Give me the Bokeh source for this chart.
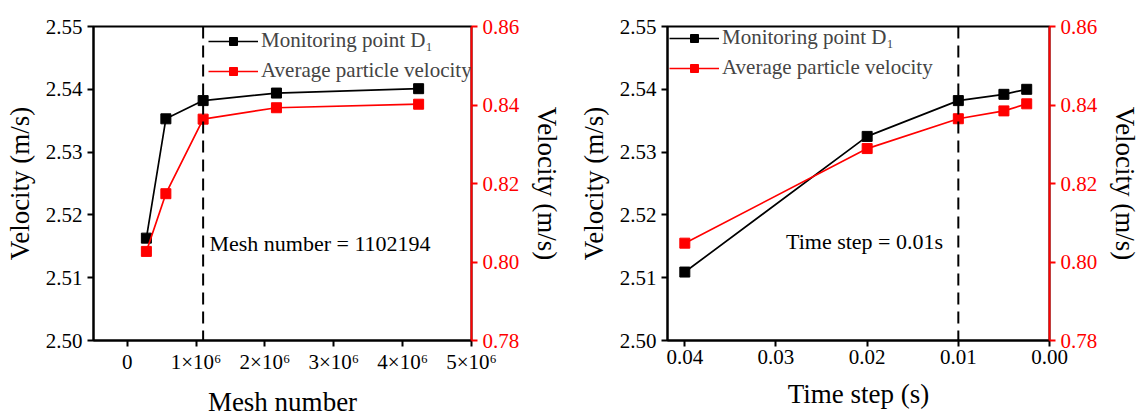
from bokeh.plotting import figure
from bokeh.models import (Range1d, LinearAxis, FixedTicker, CustomJSTickFormatter,
                          Span, Legend, LegendItem)
from bokeh.layouts import row
from bokeh.core.properties import value
from bokeh.embed import file_html
from bokeh.resources import INLINE

# ---------------- data ----------------
mesh_number = [278000, 561000, 1102194, 2167000, 4232000]
mesh_d1 = [2.5163, 2.5353, 2.5382, 2.5394, 2.5401]
mesh_avg = [0.8027, 0.8174, 0.8364, 0.8393, 0.8402]

time_step = [0.04, 0.02, 0.01, 0.005, 0.0025]
ts_d1 = [2.5109, 2.5325, 2.5382, 2.5392, 2.5400]
ts_avg = [0.8048, 0.8289, 0.8365, 0.8385, 0.8403]

left_ticks = [2.50, 2.51, 2.52, 2.53, 2.54, 2.55]
right_ticks = [0.78, 0.80, 0.82, 0.84, 0.86]
mesh_ticks = [0, 1000000, 2000000, 3000000, 4000000, 5000000]
ts_ticks = [0.04, 0.03, 0.02, 0.01, 0.0]

series_names = ["Monitoring point D\u2081", "Average particle velocity"]
mesh_note = "Mesh number = 1102194"
ts_note = "Time step = 0.01s"
mesh_chosen = 1102194
ts_chosen = 0.01

FONT = "Liberation Serif"


def style_axis(ax, color="black"):
    ax.axis_line_color = color
    ax.axis_line_width = 2
    ax.major_tick_line_color = color
    ax.major_tick_line_width = 2
    ax.major_tick_out = 6
    ax.major_tick_in = 0
    ax.minor_tick_line_color = None
    ax.major_label_text_color = color
    ax.major_label_text_font = FONT
    ax.major_label_text_font_style = "normal"
    ax.major_label_text_font_size = "21px"
    ax.major_label_standoff = 5
    ax.axis_label_text_font = FONT
    ax.axis_label_text_font_size = "27px"
    ax.axis_label_text_font_style = "normal"
    ax.axis_label_text_color = "black"


def make_panel(xs, d1, avg, x_range, xticks, xfmt, xlabel, xlabel_standoff,
               note, note_x, note_y, chosen, width, border_left, border_right,
               border_top, border_bottom, legend_loc):
    p = figure(width=width, height=419, output_backend="svg", toolbar_location=None,
               x_range=x_range, y_range=Range1d(2.50, 2.55),
               min_border_left=border_left, min_border_right=border_right,
               min_border_top=border_top, min_border_bottom=border_bottom)
    p.extra_y_ranges = {"r": Range1d(0.78, 0.86)}
    p.xgrid.visible = False
    p.ygrid.visible = False
    p.outline_line_color = "black"
    p.outline_line_width = 2
    p.background_fill_color = "white"
    p.border_fill_color = "white"

    xa = p.xaxis[0]
    style_axis(xa)
    xa.ticker = FixedTicker(ticks=xticks, minor_ticks=[])
    xa.formatter = xfmt
    xa.major_label_standoff = 3
    xa.axis_label = xlabel
    xa.axis_label_standoff = xlabel_standoff

    ya = p.yaxis[0]
    style_axis(ya)
    ya.ticker = FixedTicker(ticks=left_ticks, minor_ticks=[])
    ya.formatter = CustomJSTickFormatter(code="return tick.toFixed(2);")
    ya.axis_label = "Velocity (m/s)"
    ya.axis_label_standoff = 8

    ra = LinearAxis(y_range_name="r")
    style_axis(ra, "red")
    ra.ticker = FixedTicker(ticks=right_ticks, minor_ticks=[])
    ra.formatter = CustomJSTickFormatter(code="return tick.toFixed(2);")
    ra.axis_label = "Velocity (m/s)"
    ra.axis_label_standoff = 10
    p.add_layout(ra, "right")

    p.add_layout(Span(location=chosen, dimension="height", line_color="black",
                      line_width=2, line_dash="12 7"))

    lb = p.line(xs, d1, line_color="black", line_width=1.7)
    sb = p.scatter(xs, d1, marker="square", size=10, fill_color="black",
                   line_color="black")
    lr = p.line(xs, avg, line_color="red", line_width=1.7, y_range_name="r")
    sr = p.scatter(xs, avg, marker="square", size=10, fill_color="red",
                   line_color="red", y_range_name="r")

    p.text(x=[note_x], y=[note_y], text=[note], text_align="left",
           text_baseline="middle", text_font=value(FONT), text_font_size="22px",
           text_color="black")

    leg = Legend(items=[LegendItem(label=series_names[0], renderers=[lb, sb]),
                        LegendItem(label=series_names[1], renderers=[lr, sr])],
                 location=legend_loc, border_line_color=None,
                 background_fill_alpha=0, padding=0, margin=0, spacing=5,
                 glyph_width=50, glyph_height=20, label_height=20,
                 label_standoff=3, label_text_font=FONT,
                 label_text_font_size="21px")
    p.add_layout(leg, "center")
    return p


mesh_fmt = CustomJSTickFormatter(
    code="return tick == 0 ? '0' : Math.round(tick/1e6) + '\u00d710\u2076';")
ts_fmt = CustomJSTickFormatter(code="return tick.toFixed(2);")

p1 = make_panel(mesh_number, mesh_d1, mesh_avg, Range1d(-490000, 5000000),
                mesh_ticks, mesh_fmt, "Mesh number", 10, mesh_note, 1193000, 2.5155,
                mesh_chosen, 565, 93, 84, 26, 74, (115, 257))
p2 = make_panel(time_step, ts_d1, ts_avg, Range1d(0.0419, 0.0),
                ts_ticks, ts_fmt, "Time step (s)", 12, ts_note, 0.0289, 2.5157,
                ts_chosen, 578, 102, 88, 20, 78, (2, 260))

layout = row(p1, p2)
open("out.html", "w").write(file_html(layout, INLINE))
